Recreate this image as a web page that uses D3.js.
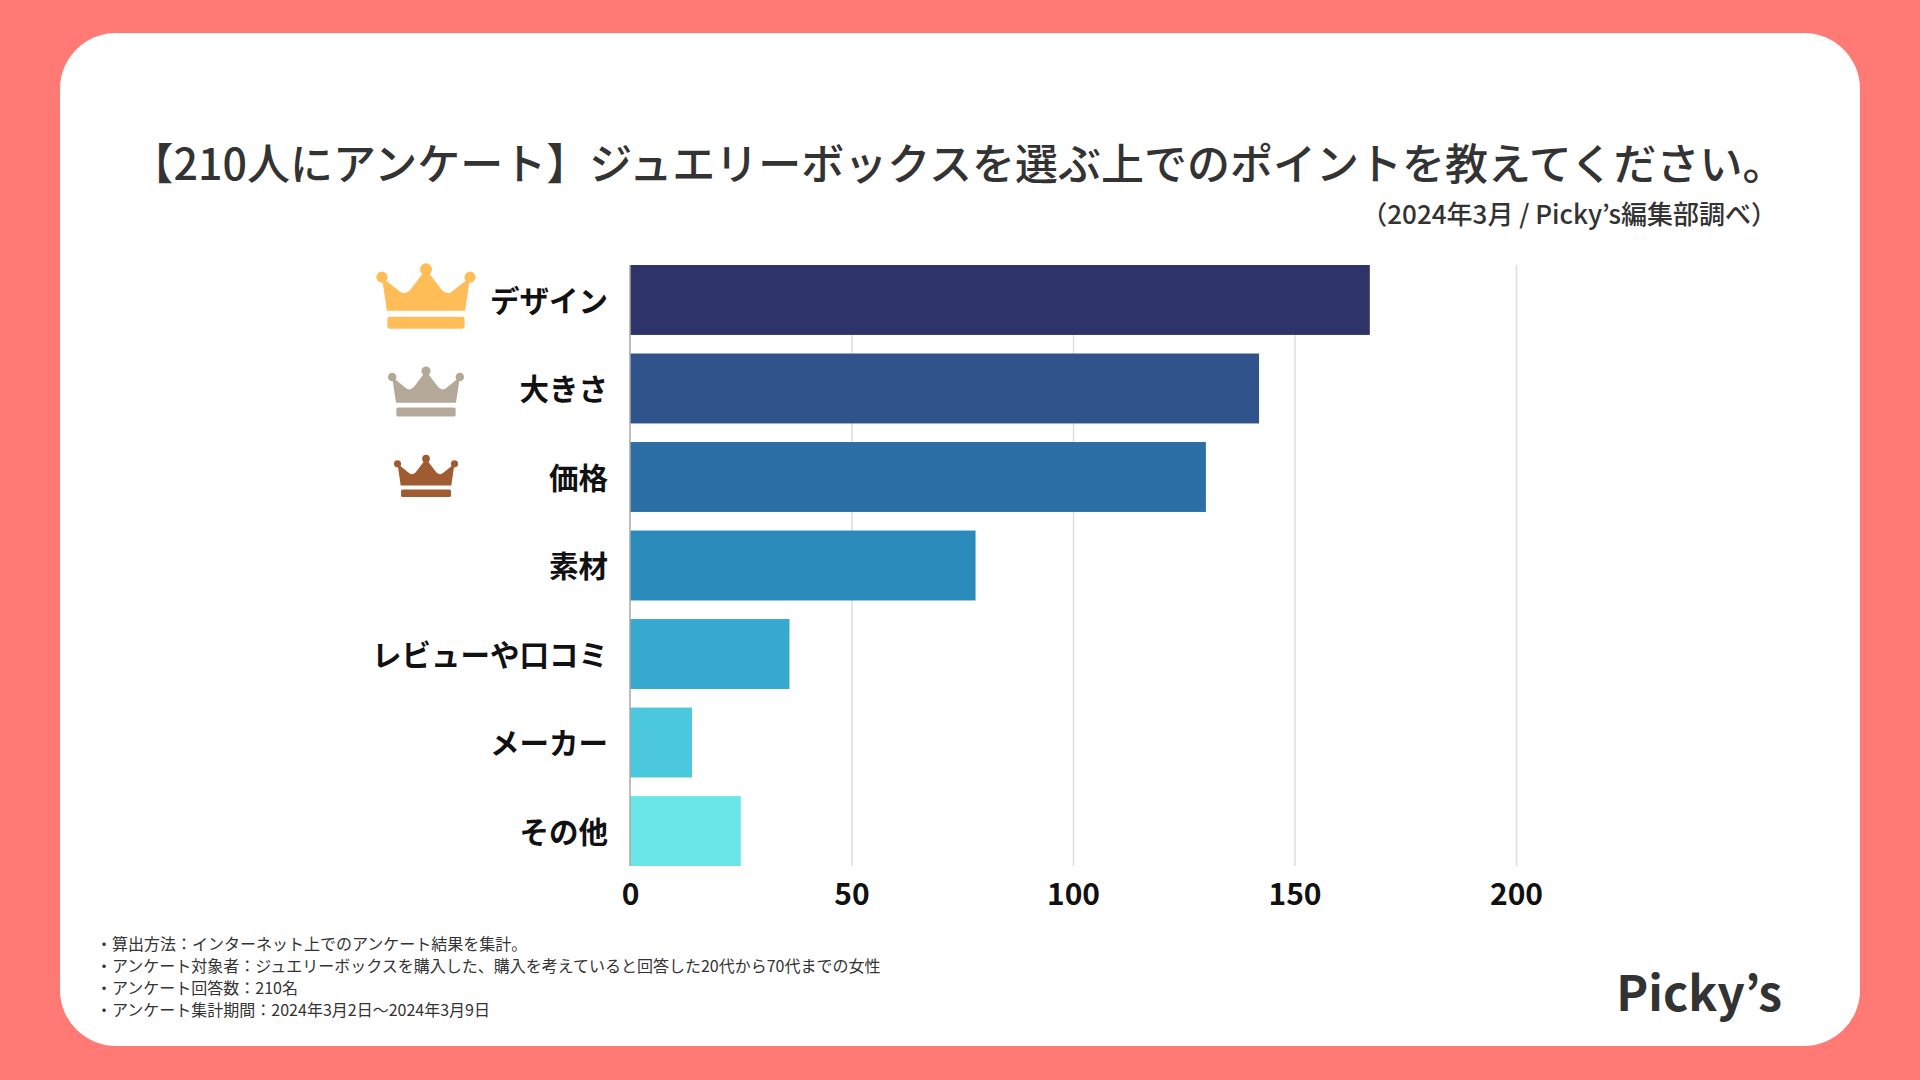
<!DOCTYPE html>
<html>
<head>
<meta charset="utf-8">
<script src="https://cdn.jsdelivr.net/npm/d3@7"></script>
<style>
	body { margin: 0; background: #FF7A74; }
	text { font-family: "Noto Sans CJK JP", "Noto Sans", sans-serif; }
</style>
</head>
<body>
<div id="chart-area"></div>
<script>

// data
let categories = ["デザイン", "大きさ", "価格", "素材", "レビューや口コミ", "メーカー", "その他"];
let counts = [167, 142, 130, 78, 36, 14, 25];
let tickValues = [0, 50, 100, 150, 200];

let titleText = "【210人にアンケート】ジュエリーボックスを選ぶ上でのポイントを教えてください。";
let sourceText = "（2024年3月 / Picky’s編集部調べ）";
let notes = [
	"・算出方法：インターネット上でのアンケート結果を集計。",
	"・アンケート対象者：ジュエリーボックスを購入した、購入を考えていると回答した20代から70代までの女性",
	"・アンケート回答数：210名",
	"・アンケート集計期間：2024年3月2日～2024年3月9日"
];


class RankingChart {

	constructor(parentElement) {
		this.parentElement = parentElement;
		this.initVis();
	}

	/*
	 * static stuff: card, titles, scales
	 */
	initVis() {
		let vis = this;

		vis.svg = d3.select("#" + vis.parentElement).append("svg")
			.attr("width", 1920)
			.attr("height", 1080);

		vis.svg.append("rect")
			.attr("width", 1920)
			.attr("height", 1080)
			.attr("fill", "#FF7A74");

		// white card
		vis.svg.append("rect")
			.attr("x", 60)
			.attr("y", 33)
			.attr("width", 1800)
			.attr("height", 1013)
			.attr("rx", 56)
			.attr("fill", "#fff");

		vis.svg.append("text")
			.attr("x", 958)
			.attr("y", 180)
			.attr("text-anchor", "middle")
			.attr("font-size", 43)
			.attr("font-weight", 500)
			.attr("fill", "#333")
			.text(titleText);

		vis.svg.append("text")
			.attr("x", 1777)
			.attr("y", 224)
			.attr("text-anchor", "end")
			.attr("font-size", 26)
			.attr("font-weight", 500)
			.attr("fill", "#333")
			.text(sourceText);

		// footer notes
		vis.svg.selectAll(".note")
			.data(notes)
			.enter()
			.append("text")
			.attr("class", "note")
			.attr("x", 96)
			.attr("y", (d, i) => 950 + i * 22)
			.attr("font-size", 16)
			.attr("fill", "#333")
			.text(d => d);

		// logo
		vis.svg.append("text")
			.attr("x", 1782)
			.attr("y", 1011)
			.attr("text-anchor", "end")
			.attr("font-family", "'Noto Sans', sans-serif")
			.attr("font-size", 48)
			.attr("font-weight", 700)
			.attr("fill", "#333")
			.text("Picky’s");

		vis.top = 265;
		vis.bottom = 866;

		vis.xScale = d3.scaleLinear()
			.domain([0, 200])
			.range([630, 1516]);

		vis.yScale = d3.scaleBand()
			.domain(categories)
			.range([vis.top, vis.bottom])
			.paddingInner(0.21)
			.paddingOuter(0);

		vis.colors = ["#2F3468", "#30538B", "#2C6FA5", "#2A8BBB", "#37A9D0", "#4CC8DE", "#6BE6E8"];
		vis.crowns = [
			{color: "#FFBC57", w: 99, dy: -4},
			{color: "#B4A999", w: 76, dy: 3},
			{color: "#A05C30", w: 64, dy: -1}
		];

		vis.wrangleData();
	}

	wrangleData() {
		let vis = this;
		vis.displayData = categories.map((c, i) => ({key: c, value: counts[i]}));
		vis.updateVis();
	}

	updateVis() {
		let vis = this;

		// gridlines
		vis.svg.append("g")
			.attr("class", "grid")
			.attr("transform", "translate(0," + vis.bottom + ")")
			.call(d3.axisBottom(vis.xScale)
				.tickValues(tickValues.filter(d => d > 0))
				.tickSize(-(vis.bottom - vis.top))
				.tickFormat(""))
			.call(g => g.select(".domain").remove())
			.selectAll("line")
			.attr("stroke", "#DDDDDD")
			.attr("stroke-width", 1.5);

		// bars
		let bar = vis.svg.selectAll(".bar")
			.data(vis.displayData);

		bar.enter()
			.append("rect")
			.attr("class", "bar")
			.merge(bar)
			.attr("x", vis.xScale(0))
			.attr("y", d => vis.yScale(d.key))
			.attr("width", d => vis.xScale(d.value) - vis.xScale(0))
			.attr("height", vis.yScale.bandwidth())
			.attr("fill", (d, i) => vis.colors[i]);

		bar.exit().remove();

		// zero line
		vis.svg.append("line")
			.attr("x1", vis.xScale(0))
			.attr("x2", vis.xScale(0))
			.attr("y1", vis.top)
			.attr("y2", vis.bottom)
			.attr("stroke", "#A8A8A8")
			.attr("stroke-width", 1.5);

		// x axis labels
		vis.svg.append("g")
			.attr("class", "x-axis")
			.attr("transform", "translate(0," + vis.bottom + ")")
			.call(d3.axisBottom(vis.xScale)
				.tickValues(tickValues)
				.tickSize(0)
				.tickPadding(18))
			.call(g => g.select(".domain").remove())
			.selectAll("text")
			.attr("font-family", "'Noto Sans CJK JP', sans-serif")
			.attr("font-size", 30)
			.attr("font-weight", 700)
			.attr("fill", "#111");

		// category labels
		vis.svg.selectAll(".cat-label")
			.data(vis.displayData)
			.enter()
			.append("text")
			.attr("class", "cat-label")
			.attr("x", 608)
			.attr("y", d => vis.yScale(d.key) + vis.yScale.bandwidth() / 2)
			.attr("dy", "0.4em")
			.attr("text-anchor", "end")
			.attr("font-size", 29.5)
			.attr("font-weight", 700)
			.attr("fill", "#111")
			.text(d => d.key);

		// crowns for top three, drawn in a 100 x 66 box
		let crownBody = "M5.5 14 L10.5 48 L89.5 48 L94.5 14 L77 28 Q72 33 66 27 L50 6 L34 27 Q28 33 23 28 Z";
		let crown = vis.svg.selectAll(".crown")
			.data(vis.displayData.slice(0, 3))
			.enter()
			.append("g")
			.attr("class", "crown")
			.attr("transform", (d, i) => {
				let s = vis.crowns[i].w / 100;
				let cy = vis.yScale(d.key) + vis.yScale.bandwidth() / 2 + vis.crowns[i].dy;
				return "translate(" + (426 - 50 * s) + "," + (cy - 33 * s) + ") scale(" + s + ")";
			})
			.attr("fill", (d, i) => vis.crowns[i].color);

		crown.append("path").attr("d", crownBody);
		crown.selectAll("circle")
			.data([[5.5, 14, 5.6], [50, 6, 6], [94.5, 14, 5.6]])
			.enter()
			.append("circle")
			.attr("cx", d => d[0])
			.attr("cy", d => d[1])
			.attr("r", d => d[2]);
		crown.append("rect")
			.attr("x", 11)
			.attr("y", 54)
			.attr("width", 78)
			.attr("height", 12)
			.attr("rx", 2.5);
	}
}

new RankingChart("chart-area");

</script>
</body>
</html>
